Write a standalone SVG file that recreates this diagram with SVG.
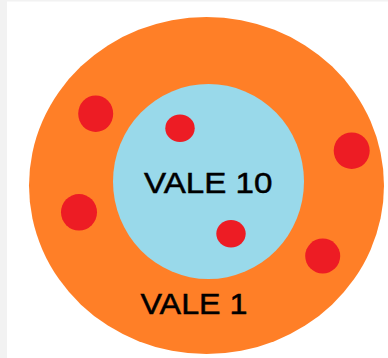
<svg xmlns="http://www.w3.org/2000/svg" width="388" height="358" viewBox="0 0 388 358">
<style>
.dot{fill:#ED1C24}
.lbl{font-family:"Liberation Sans",Arial,sans-serif;font-size:30px;fill:#000;stroke:#000;stroke-width:0.5}
</style>
<rect x="0" y="0" width="388" height="358" fill="#ffffff"/>
<rect x="0" y="0" width="7" height="358" fill="#f2f2f2"/>
<rect x="0" y="0" width="388" height="1.5" fill="#f2f2f2"/>
<g id="outer">
<ellipse cx="206.5" cy="185.5" rx="177.5" ry="168.5" fill="#FF7F27"/>
<text class="lbl" x="140.5" y="314" textLength="107" lengthAdjust="spacingAndGlyphs">VALE 1</text>
</g>
<g id="inner">
<ellipse cx="208.5" cy="181.5" rx="95.5" ry="97.5" fill="#99D9EA"/>
<text class="lbl" x="144" y="193.3" textLength="128.5" lengthAdjust="spacingAndGlyphs">VALE 10</text>
</g>
<g id="dots">
<ellipse class="dot" cx="95.7" cy="113.7" rx="17.5" ry="18.3"/>
<ellipse class="dot" cx="180" cy="128.3" rx="14.7" ry="13.7"/>
<ellipse class="dot" cx="351.7" cy="150.7" rx="18" ry="18.3"/>
<ellipse class="dot" cx="79" cy="212.3" rx="18" ry="18.3"/>
<ellipse class="dot" cx="231" cy="233.7" rx="14.7" ry="13.7"/>
<ellipse class="dot" cx="322.7" cy="256" rx="17.5" ry="17.5"/>
</g>
</svg>
